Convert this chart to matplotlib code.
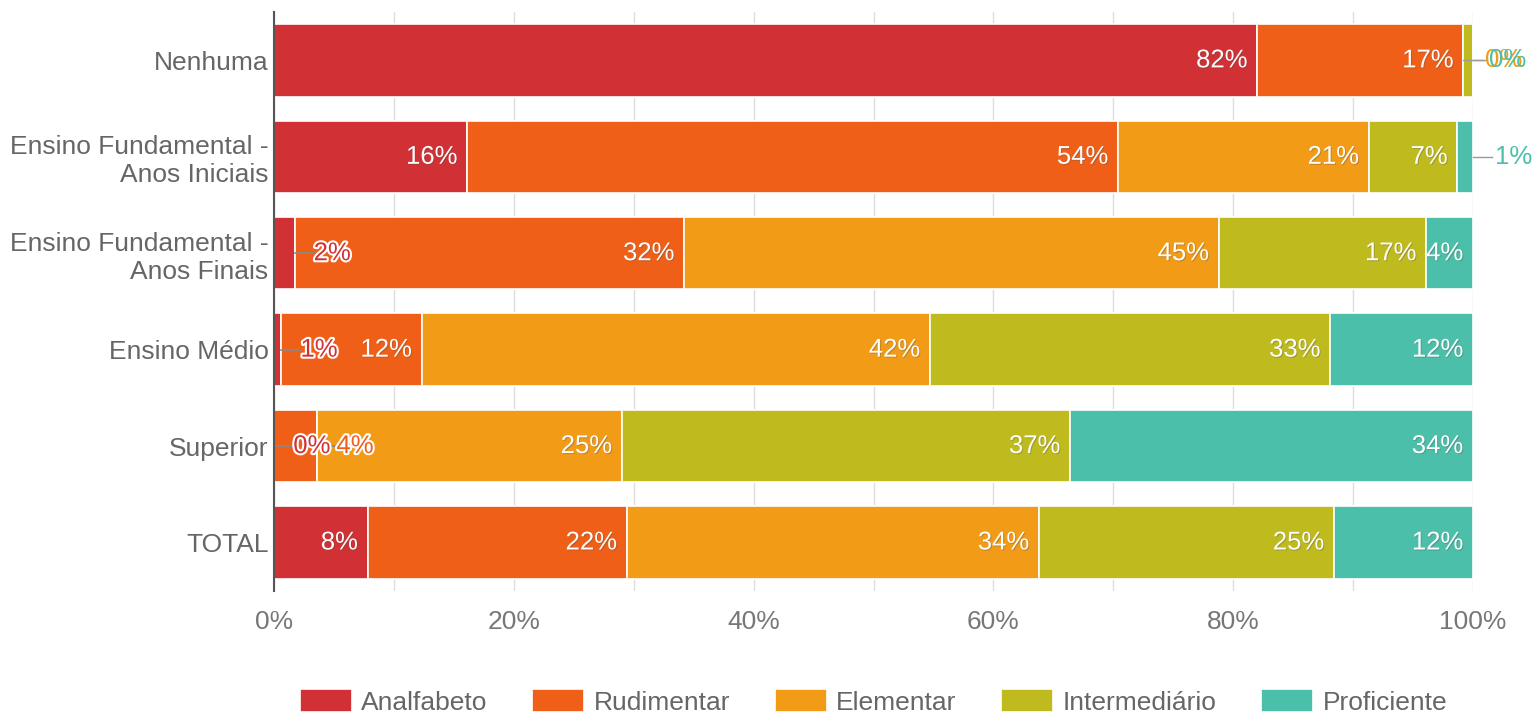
import matplotlib.pyplot as plt
import matplotlib.patheffects as pe
import numpy as np

plt.rcParams['font.family'] = ['Liberation Sans', 'DejaVu Sans']

# escolaridade x nivel de alfabetismo (%)
categorias = ['Nenhuma', 'Ensino Fundamental -\nAnos Iniciais', 'Ensino Fundamental -\nAnos Finais',
              'Ensino Médio', 'Superior', 'TOTAL']
niveis = ['Analfabeto', 'Rudimentar', 'Elementar', 'Intermediário', 'Proficiente']
cores = ['#d13134', '#f05f17', '#f19b17', '#bfbb1e', '#4bbfa9']

analfabeto = [82.0, 16.1, 1.7, 0.6, 0.0, 7.8]
rudimentar = [17.2, 54.3, 32.5, 11.7, 3.6, 21.6]
elementar = [0.0, 20.9, 44.6, 42.4, 25.4, 34.4]
intermediario = [0.8, 7.4, 17.3, 33.4, 37.4, 24.6]
proficiente = [0.0, 1.3, 3.9, 11.9, 33.6, 11.6]
# rotulos que o grafico original nao mostra (linha, serie)
ocultos = [(0, 3)]

series = [analfabeto, rudimentar, elementar, intermediario, proficiente]

fig = plt.figure(figsize=(15.4, 7.16), dpi=100)
ax = fig.add_axes([0.178, 0.175, 0.7785, 0.808])

y = np.arange(len(categorias))
esq = np.zeros(len(categorias))
for s, (nome, vals) in enumerate(zip(niveis, series)):
    ax.barh(y, vals, left=esq, height=0.75, color=cores[s], edgecolor='white',
            linewidth=1.2, label=nome, zorder=2)
    esq = esq + np.array(vals)

# rotulos
fs = 18.5
contorno = [pe.withStroke(linewidth=3, foreground='white')]
for i in range(len(categorias)):
    ini = 0.0
    prox_esq = None
    prox_dir = None
    for s, vals in enumerate(series):
        v = vals[i]
        fim = ini + v
        txt = '%d%%' % round(v)
        if (i, s) in ocultos:
            pass
        elif v >= 3.8:
            ax.text(fim - 0.8, i, txt, ha='right', va='center', color='white',
                    fontsize=fs, zorder=4,
                    path_effects=[pe.withSimplePatchShadow(offset=(0.7, -0.7), alpha=0.3)])
        elif fim <= 6:
            x = fim + 1.6
            if prox_esq is not None and x < prox_esq:
                x = prox_esq
            ax.plot([fim, x], [i, i], color='#888888', lw=1.2, zorder=3)
            ax.text(x, i, txt, ha='left', va='center', color=cores[s], fontsize=fs,
                    zorder=5, path_effects=contorno)
            prox_esq = x + 3.1
        else:
            base = ini if v == 0 else fim
            x = base + 1.8 if prox_dir is None else prox_dir
            ax.plot([base, x - 0.2], [i, i], color='#999999', lw=1.0, zorder=3, clip_on=False)
            ax.text(x, i, txt, ha='left', va='center', color=cores[s], fontsize=fs,
                    zorder=5)
            prox_dir = x + 0.35
        ini = fim

ax.set_xlim(0, 100)
ax.set_ylim(len(categorias) - 0.5, -0.5)
ax.set_yticks(y)
ax.set_yticklabels(categorias, fontsize=19, color='#666666')
ax.set_xticks(np.arange(0, 101, 20))
ax.set_xticklabels(['%d%%' % t for t in range(0, 101, 20)], fontsize=19, color='#777777')
ax.set_xticks(np.arange(0, 101, 10), minor=True)
ax.grid(axis='x', which='both', color='#dddddd', lw=1, zorder=0)
ax.tick_params(axis='both', which='both', length=0)
ax.tick_params(axis='y', pad=4)
ax.tick_params(axis='x', pad=14)
for lado in ['top', 'right', 'bottom']:
    ax.spines[lado].set_visible(False)
ax.spines['left'].set_color('#555555')
ax.spines['left'].set_linewidth(1.5)
ax.spines['left'].set_zorder(6)

ax.legend(loc='center', bbox_to_anchor=(0.5, -0.192), ncol=5, frameon=False,
          fontsize=19, labelcolor='#666666', handlelength=1.97, handleheight=1.0,
          handletextpad=0.35, columnspacing=1.7)

fig.savefig('out.png', dpi=100)
